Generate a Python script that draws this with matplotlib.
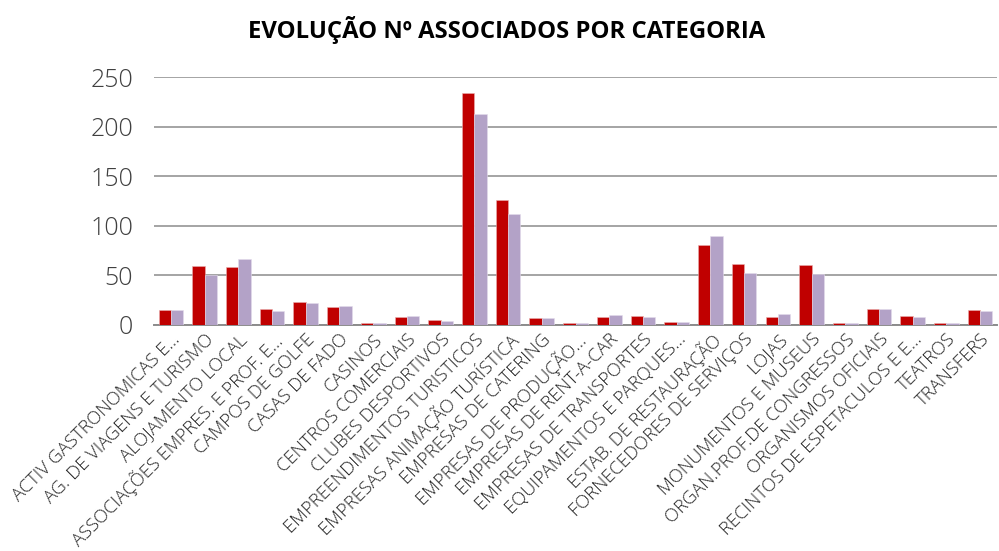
import numpy as np
import matplotlib.pyplot as plt

categorias = [
    "ACTIV GASTRONOMICAS E…", "AG. DE VIAGENS E TURISMO", "ALOJAMENTO LOCAL",
    "ASSOCIAÇÕES EMPRES. E PROF. E…", "CAMPOS DE GOLFE", "CASAS DE FADO",
    "CASINOS", "CENTROS COMERCIAIS", "CLUBES DESPORTIVOS",
    "EMPREENDIMENTOS TURISTICOS", "EMPRESAS ANIMAÇÃO TURÍSTICA",
    "EMPRESAS DE CATERING", "EMPRESAS DE PRODUÇÃO…", "EMPRESAS DE RENT-A-CAR",
    "EMPRESAS DE TRANSPORTES", "EQUIPAMENTOS E PARQUES…",
    "ESTAB. DE RESTAURAÇÃO", "FORNECEDORES DE SERVIÇOS", "LOJAS",
    "MONUMENTOS E MUSEUS", "ORGAN.PROF.DE CONGRESSOS", "ORGANISMOS OFICIAIS",
    "RECINTOS DE ESPETACULOS E E…", "TEATROS", "TRANSFERS",
]
serie_a = [15, 59, 58, 16, 23, 18, 2, 8, 5, 234, 126, 7, 2, 8, 9, 3,
           80, 61, 8, 60, 2, 16, 9, 2, 15]
serie_b = [15, 50, 66, 14, 22, 19, 1.5, 9, 4, 213, 112, 7, 1.5, 10, 8, 3,
           90, 52, 11, 51, 1.5, 16, 8, 1.5, 14]
yticks = [0, 50, 100, 150, 200, 250]

plt.rcParams['font.family'] = ['Open Sans', 'DejaVu Sans']

fig = plt.figure(figsize=(9.99, 5.51), dpi=100)
ax = fig.add_axes([0.1542, 0.4107, 0.8438, 0.4493])

x = np.arange(len(categorias))
w = 0.365
ax.bar(x - w / 2, serie_a, w, color='#C00000', edgecolor='#E8B0B0', linewidth=0.4, zorder=5)
ax.bar(x + w / 2, serie_b, w, color='#B3A2C7', edgecolor='#E4DCEC', linewidth=0.4, zorder=5)

ax.set_xlim(-0.5, len(categorias) - 0.5)
ax.set_ylim(0, 250)
ax.set_yticks(yticks)
ax.yaxis.grid(True, color='#8C8C8C', linewidth=1.1)
ax.set_axisbelow(True)
for s in ['top', 'right', 'left']:
    ax.spines[s].set_visible(False)
ax.spines['bottom'].set_color('#8C8C8C')
ax.spines['bottom'].set_linewidth(1.4)
ax.spines['bottom'].set_zorder(4)

ax.tick_params(axis='y', length=0, pad=15)
for t in ax.get_yticklabels():
    t.set_fontsize(18)
    t.set_fontweight('light')
    t.set_color('#404040')
ax.tick_params(axis='x', length=0, pad=4)
ax.set_xticks(x)
ax.set_xticklabels(categorias, rotation=45, ha='right', rotation_mode='anchor',
                   fontsize=13.2, fontweight='light', color='#262626')

fig.text(0.507, 0.946, 'EVOLUÇÃO Nº ASSOCIADOS POR CATEGORIA', ha='center', va='center',
         fontsize=17.2, fontweight='bold', color='black')

fig.savefig('out.png', dpi=100)
